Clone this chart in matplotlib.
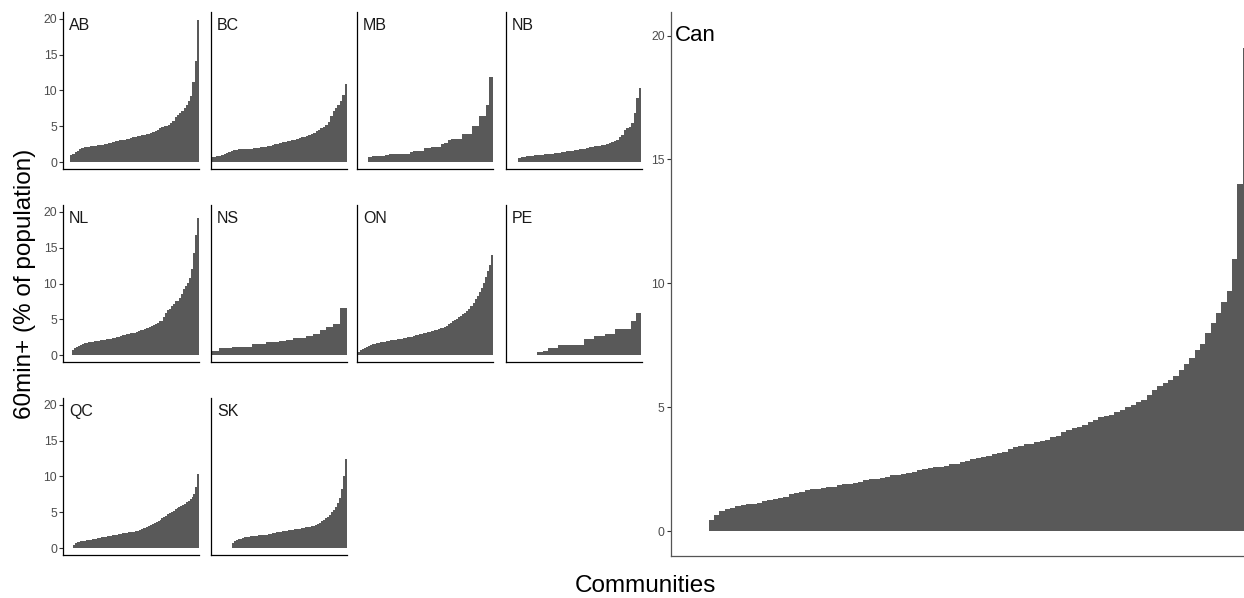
import numpy as np
import matplotlib
matplotlib.use("Agg")
import matplotlib.pyplot as plt
import matplotlib.transforms as mtransforms

plt.rcParams['font.family'] = ['Liberation Sans', 'DejaVu Sans']

# share of population commuting 60min+, sorted per province (zeros = no long commuters)
provinces = ["AB", "BC", "MB", "NB", "NL", "NS", "ON", "PE", "QC", "SK"]

ab = [0, 0, 0, 1.0, 1.2, 1.4, 1.6, 1.8, 1.95, 2.05, 2.1, 2.15, 2.2, 2.25, 2.3, 2.35,
      2.4, 2.45, 2.5, 2.6, 2.65, 2.7, 2.8, 2.9, 3.0, 3.05, 3.1, 3.15, 3.2, 3.3, 3.35,
      3.45, 3.55, 3.6, 3.7, 3.75, 3.8, 3.9, 4.0, 4.1, 4.25, 4.4, 4.55, 4.7, 4.85, 5.0,
      5.1, 5.2, 5.4, 5.8, 6.3, 6.6, 6.8, 7.2, 7.6, 8.0, 8.5, 9.2, 11.2, 14.1, 19.8]
bc = [0.7, 0.75, 0.8, 0.9, 1.0, 1.1, 1.25, 1.4, 1.5, 1.65, 1.75, 1.8, 1.8, 1.82, 1.84,
      1.86, 1.9, 1.95, 2.0, 2.02, 2.05, 2.1, 2.15, 2.25, 2.3, 2.4, 2.5, 2.6, 2.65, 2.75,
      2.85, 2.9, 3.0, 3.05, 3.15, 3.25, 3.35, 3.45, 3.55, 3.65, 3.75, 3.9, 4.1, 4.3, 4.5,
      4.7, 4.9, 5.2, 5.6, 6.4, 7.1, 7.6, 8.0, 8.6, 9.4, 10.9]
mb = [0, 0, 0, 0.75, 0.8, 0.85, 0.9, 0.9, 0.95, 1.15, 1.15, 1.2, 1.2, 1.2, 1.2,
      1.45, 1.5, 1.55, 1.6, 1.95, 2.0, 2.05, 2.05, 2.05, 2.6, 2.65, 3.1, 3.2, 3.3, 3.3,
      3.9, 4.0, 4.0, 5.0, 5.1, 6.4, 6.5, 8.0, 11.9]
nb = [0, 0, 0, 0, 0, 0.65, 0.7, 0.75, 0.8, 0.85, 0.9, 0.95, 1.0, 1.0, 1.05, 1.1, 1.1,
      1.15, 1.2, 1.25, 1.3, 1.35, 1.4, 1.45, 1.5, 1.55, 1.6, 1.65, 1.7, 1.8, 1.85, 1.9,
      1.95, 2.05, 2.1, 2.2, 2.25, 2.3, 2.4, 2.45, 2.55, 2.65, 2.8, 2.95, 3.15, 3.45,
      3.75, 4.5, 4.7, 4.9, 5.4, 6.8, 8.9, 10.3]
nl = [0, 0, 0, 0, 0.75, 0.95, 1.1, 1.3, 1.45, 1.6, 1.7, 1.75, 1.8, 1.85, 1.9, 1.95,
      1.95, 2.0, 2.05, 2.1, 2.15, 2.2, 2.2, 2.3, 2.35, 2.45, 2.5, 2.55, 2.65, 2.75, 2.8,
      2.9, 2.95, 3.05, 3.1, 3.15, 3.3, 3.4, 3.45, 3.55, 3.6, 3.8, 3.95, 4.1, 4.2, 4.3,
      4.5, 4.7, 4.8, 5.3, 5.9, 6.3, 6.5, 6.8, 7.2, 7.5, 7.6, 8.0, 8.6, 9.2, 9.6, 10.1,
      10.8, 12.0, 14.2, 16.8, 19.2]
ns = [0.6, 0.95, 0.95, 1.15, 1.15, 1.2, 1.5, 1.55, 1.85, 1.9, 1.95, 2.05, 2.4, 2.45,
      2.7, 3.0, 3.5, 3.95, 4.3, 6.6]
on = [0.5, 0.75, 0.9, 1.05, 1.2, 1.3, 1.4, 1.5, 1.6, 1.65, 1.75, 1.8, 1.85, 1.9, 1.95,
      2.0, 2.05, 2.1, 2.15, 2.2, 2.25, 2.3, 2.35, 2.4, 2.5, 2.55, 2.6, 2.7, 2.75, 2.85,
      2.9, 3.0, 3.05, 3.15, 3.2, 3.3, 3.35, 3.45, 3.55, 3.65, 3.75, 3.85, 3.95, 4.1,
      4.3, 4.5, 4.7, 4.9, 5.1, 5.3, 5.5, 5.7, 5.9, 6.2, 6.5, 6.9, 7.3, 7.8, 8.3, 8.8,
      9.4, 10.1, 10.9, 11.7, 12.6, 14.0]
pe = [0, 0, 0, 0, 0, 0, 0.5, 0.6, 1.0, 1.0, 1.4, 1.4, 1.4, 1.4, 1.4, 2.3, 2.3, 2.65,
      2.65, 3.0, 3.0, 3.6, 3.6, 3.6, 4.75, 5.9]
qc = [0, 0, 0, 0, 0, 0.5, 0.7, 0.85, 0.9, 0.95, 1.0, 1.05, 1.1, 1.15, 1.2, 1.25, 1.3,
      1.35, 1.4, 1.45, 1.5, 1.55, 1.6, 1.65, 1.7, 1.75, 1.8, 1.85, 1.9, 1.95, 2.0, 2.05,
      2.1, 2.15, 2.2, 2.2, 2.25, 2.3, 2.4, 2.45, 2.55, 2.65, 2.75, 2.85, 3.0, 3.15, 3.3,
      3.4, 3.5, 3.65, 3.85, 4.0, 4.2, 4.4, 4.55, 4.75, 4.95, 5.1, 5.25, 5.4, 5.6, 5.75,
      5.9, 6.05, 6.2, 6.4, 6.65, 6.9, 7.1, 7.6, 8.5, 10.4]
sk = [0, 0, 0, 0, 0, 0, 0, 0, 0, 0, 0.75, 0.95, 1.15, 1.25, 1.35, 1.45, 1.5, 1.55, 1.6,
      1.65, 1.7, 1.72, 1.75, 1.78, 1.8, 1.82, 1.85, 1.9, 1.95, 2.0, 2.05, 2.1, 2.2, 2.25,
      2.3, 2.35, 2.4, 2.45, 2.5, 2.55, 2.6, 2.62, 2.65, 2.7, 2.75, 2.85, 2.9, 2.95, 3.0,
      3.05, 3.15, 3.25, 3.4, 3.55, 3.75, 3.95, 4.15, 4.4, 4.65, 5.0, 5.35, 5.7, 6.3,
      7.0, 8.3, 10.1, 12.4]

# all of Canada
can = [0, 0, 0, 0, 0, 0, 0,
       0.45, 0.65, 0.8, 0.9, 0.95, 1.0, 1.05, 1.1, 1.1, 1.15,
       1.2, 1.25, 1.3, 1.35, 1.4, 1.5, 1.55, 1.6, 1.65, 1.7,
       1.7, 1.75, 1.8, 1.8, 1.85, 1.9, 1.9, 1.95, 2.0, 2.05,
       2.1, 2.1, 2.15, 2.2, 2.25, 2.25, 2.3, 2.35, 2.4, 2.45,
       2.5, 2.55, 2.6, 2.6, 2.65, 2.7, 2.7, 2.8, 2.85, 2.9,
       2.95, 3.0, 3.05, 3.1, 3.15, 3.2, 3.3, 3.4, 3.45, 3.5,
       3.5, 3.6, 3.65, 3.7, 3.8, 3.85, 4.0, 4.1, 4.15, 4.2,
       4.3, 4.4, 4.5, 4.6, 4.65, 4.7, 4.8, 4.9, 5.0, 5.1,
       5.2, 5.3, 5.5, 5.7, 5.85, 6.0, 6.1, 6.25, 6.5, 6.75,
       7.0, 7.3, 7.55, 8.0, 8.4, 8.8, 9.25, 9.7, 11.0, 14.0,
       19.5]

series = dict(zip(provinces, [ab, bc, mb, nb, nl, ns, on, pe, qc, sk]))

W, H = 1244, 598
BAR = "#595959"
fig = plt.figure(figsize=(W / 100, H / 100), dpi=100)


def px_axes(left, top, width, height):
    return fig.add_axes([left / W, 1 - (top + height) / H, width / W, height / H])


def style(ax, ticks, line_col, size):
    for s in ["top", "right"]:
        ax.spines[s].set_visible(False)
    for s in ["left", "bottom"]:
        ax.spines[s].set_color(line_col)
        ax.spines[s].set_linewidth(0.9)
    ax.set_xticks([])
    if ticks:
        ax.set_yticks([0, 5, 10, 15, 20])
        ax.tick_params(axis="y", length=2.9, width=0.8, color="#333333",
                       labelcolor="#4d4d4d", labelsize=size, pad=1.5)
    else:
        ax.set_yticks([])


# small multiples, 4 columns x 3 rows
col_left = [63.3, 211.3, 357.3, 505.7]
row_top = [12, 205, 398]
for i, prov in enumerate(provinces):
    r, c = divmod(i, 4)
    ax = px_axes(col_left[c], row_top[r], 136, 157)
    vals = series[prov]
    ax.bar(np.arange(len(vals)), vals, width=1.0, color=BAR, linewidth=0,
           antialiased=False)
    ax.set_xlim(-0.6, len(vals) - 0.4)
    ax.set_ylim(-0.95, 20.95)
    style(ax, c == 0, "black", 8.8)
    trans = mtransforms.blended_transform_factory(ax.transAxes, ax.transData)
    ax.text(0.042, 18.45, prov, transform=trans, fontsize=11.5, color="#1a1a1a",
            ha="left", va="baseline")

# Canada panel (right side, runs to the edge)
axc = px_axes(670.7, 12, W - 670.7, 544)
axc.bar(np.arange(len(can)), can, width=1.0, color=BAR, linewidth=0,
        antialiased=False)
axc.set_xlim(-0.6, len(can) - 1.5 + 0.25)
axc.set_ylim(-1.0, 20.95)
style(axc, True, "#555555", 8.8)
transc = mtransforms.blended_transform_factory(axc.transAxes, axc.transData)
axc.text(0.0065, 19.8, "Can", transform=transc, fontsize=16, color="black",
         ha="left", va="baseline")

fig.text(25.5 / W, 1 - 284 / H, "60min+ (% of population)", rotation=90,
         fontsize=17.5, ha="center", va="center", color="black")
fig.text(645 / W, 1 - 592 / H, "Communities", fontsize=17.5, ha="center",
         va="baseline", color="black")

fig.savefig("out.png", dpi=100)
